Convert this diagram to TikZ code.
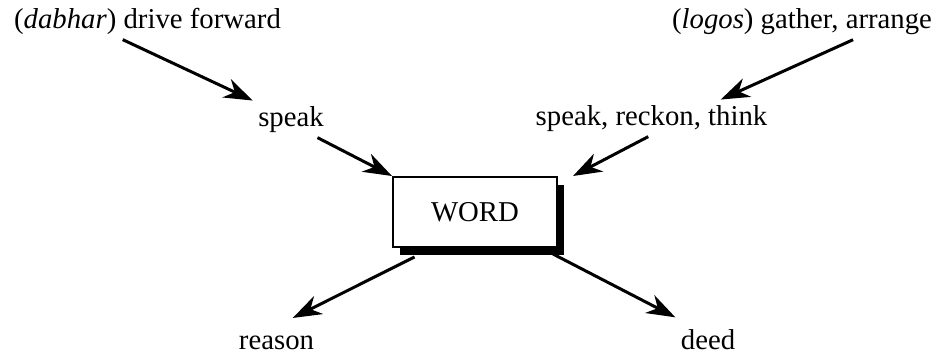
\documentclass[tikz,border=0pt]{standalone}
\usepackage{fontspec}
\setmainfont{Liberation Serif}
\usetikzlibrary{arrows.meta,shadows}

\begin{document}
\begin{tikzpicture}[x=0.4pt,y=-0.4pt,
  every node/.style={font=\fontsize{11.5}{13}\selectfont, inner sep=2pt},
  arr/.style={-{Stealth[length=11.5pt,width=8pt,inset=3.6pt]}, line width=1.2pt},
  wordbox/.style={draw, line width=0.8pt, fill=white, minimum width=65.6pt, minimum height=28pt,
    drop shadow={shadow xshift=2.6pt, shadow yshift=-3.2pt, fill=black, opacity=1}}]
  \useasboundingbox (0,0) rectangle (938,355);

  % Define node positions
  \node[anchor=base] (dabhar) at (147.5,28) {(\textit{dabhar}) drive forward};
  \node[anchor=base] (logos) at (802,28) {(\textit{logos}) gather, arrange};
  \node[anchor=base] (speak) at (291,126) {speak};
  \node[anchor=base] (reckon) at (651.5,125) {speak, reckon, think};
  \node[wordbox] (word) at (475,212) {WORD};
  \node[anchor=base] (reason) at (276.5,349) {reason};
  \node[anchor=base] (deed) at (708,349) {deed};

  % Draw edges
  \draw[arr] (dabhar.217) -- (speak.north west);
  \draw[arr] (speak.325) -- (word.north west);

  \draw[arr] (logos.340) -- (reckon.15);
  \draw[arr] (reckon.260) -- ([xshift=6pt]word.north east);

  \draw[arr] ([xshift=9pt,yshift=-3.6pt]word.south west) -- ([xshift=6.5pt,yshift=4.8pt]reason.north);
  \draw[arr] ([xshift=-2pt,yshift=-2.4pt]word.south east) -- ([yshift=2.5pt]deed.north west);
\end{tikzpicture}
\end{document}
